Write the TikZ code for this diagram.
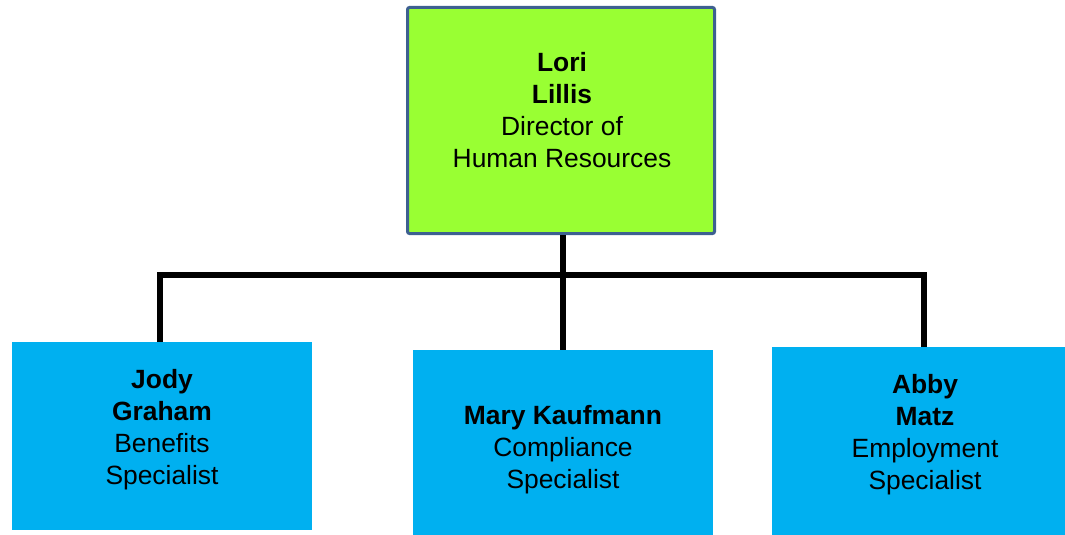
\documentclass[tikz,border=0pt]{standalone}
\usepackage{fontspec}
\setmainfont{Liberation Sans}
\definecolor{topfill}{HTML}{99FF33}
\definecolor{topdraw}{HTML}{3D6090}
\definecolor{childfill}{HTML}{00B0F0}
\begin{document}
\begin{tikzpicture}[x=1pt,y=-1pt,
  topbox/.style={draw=topdraw,line width=3pt,fill=topfill,rounded corners=2pt,inner sep=0pt,anchor=north west},
  childbox/.style={fill=childfill,inner sep=0pt,anchor=north west},
  lbl/.style={align=center,inner sep=0pt,font=\fontsize{26.4}{32}\selectfont},
  conn/.style={line width=6pt,black}]
\useasboundingbox (0,0) rectangle (1065,535);
\node[topbox,minimum width=307pt,minimum height=226pt] (top) at (406,6) {};
\node[childbox,minimum width=300pt,minimum height=188pt] (c1) at (12,342) {};
\node[childbox,minimum width=300pt,minimum height=185pt] (c2) at (413,350) {};
\node[childbox,minimum width=293pt,minimum height=188pt] (c3) at (772,347) {};
\node[lbl] (t0) at (562,110) {\textbf{Lori}\\\textbf{Lillis}\\Director of\\Human Resources};
\node[lbl] (t1) at (162,430) {\textbf{Jody}\\\textbf{Graham}\\Benefits\\Specialist};
\node[lbl] (t2) at (563,450) {\textbf{Mary Kaufmann}\\Compliance\\Specialist};
\node[lbl] (t3) at (925,435) {\textbf{Abby}\\\textbf{Matz}\\Employment\\Specialist};
\coordinate (j1) at (160,275);
\coordinate (j3) at (924,275);
\draw[conn] (top.south -| c2.north) -- (c2.north);
\draw[conn] (j1 |- c1.north) -- (j1) -- (j3) -- (j3 |- c3.north);
\end{tikzpicture}
\end{document}
